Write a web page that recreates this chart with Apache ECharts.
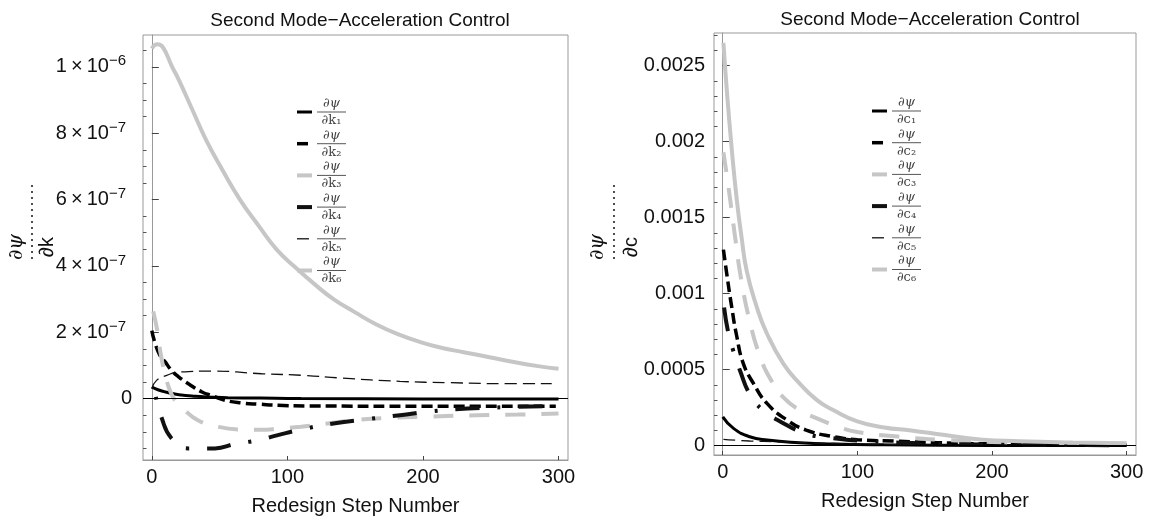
<!DOCTYPE html>
<html>
<head>
<meta charset="utf-8">
<script src="https://cdn.jsdelivr.net/npm/echarts@6/dist/echarts.min.js"></script>
<style>
  html, body { margin: 0; padding: 0; background: #fff; }
  #chart { width: 1151px; height: 521px; }
</style>
</head>
<body>
<div id="chart"></div>
<script>
// ---- data: step number vs sensitivity ----
// left panel, dpsi/dk
var stepK1 = [0, 5, 10, 20, 32, 45, 56, 80, 110, 200, 300];
var valK1  = [3.5e-8, 2.6e-8, 2.0e-8, 1.2e-8, 7e-9, 4.5e-9, 3e-9, 1.5e-9, 0, -1e-9, -1.5e-9];
var stepK2 = [0, 4.8, 10, 14.6, 20, 27, 37, 45, 54, 66, 80, 93, 115, 200, 298];
var valK2  = [2.05e-7, 1.4e-7, 1.1e-7, 8.5e-8, 6.5e-8, 4.5e-8, 2e-8, 8e-9, -5e-9, -1.3e-8, -1.7e-8, -2e-8, -2.2e-8, -2.3e-8, -2.3e-8];
var stepK3 = [0, 3.6, 7, 12, 17, 23, 34, 49, 64, 80, 95, 110, 130, 150, 175, 205, 240, 270, 300];
var valK3  = [2.8e-7, 2.15e-7, 1.25e-7, 4e-8, -5e-9, -3e-8, -6.5e-8, -8.5e-8, -9.3e-8, -9.4e-8, -9e-8, -8.5e-8, -7.5e-8, -6.5e-8, -5.8e-8, -5.4e-8, -5e-8, -4.8e-8, -4.5e-8];
var stepK4 = [3, 7, 14.6, 27, 46.6, 61, 78.5, 93, 108, 134, 159, 183, 207, 233, 260, 295];
var valK4  = [5e-9, -5.5e-8, -1.2e-7, -1.5e-7, -1.5e-7, -1.37e-7, -1.25e-7, -1.1e-7, -9.5e-8, -7.5e-8, -6.2e-8, -5e-8, -3.8e-8, -3e-8, -2.6e-8, -2.2e-8];
var stepK5 = [0, 3.5, 11, 20, 44, 81, 112, 140, 183, 220, 267, 295];
var valK5  = [3e-8, 5.5e-8, 7e-8, 8e-8, 8.3e-8, 7.5e-8, 7e-8, 6.2e-8, 5.2e-8, 4.8e-8, 4.5e-8, 4.5e-8];
var stepK6 = [0, 4, 8, 15, 20, 30, 40, 52, 65, 79, 92, 106, 120, 134, 150, 165, 181, 200, 215, 230, 250, 270, 285, 300];
var valK6  = [1.055e-6, 1.068e-6, 1.06e-6, 1.0e-6, 9.6e-7, 8.7e-7, 7.8e-7, 6.9e-7, 6.0e-7, 5.2e-7, 4.5e-7, 3.95e-7, 3.45e-7, 3.0e-7, 2.6e-7, 2.25e-7, 1.95e-7, 1.68e-7, 1.52e-7, 1.4e-7, 1.24e-7, 1.08e-7, 9.8e-8, 9e-8];

// right panel, dpsi/dc
var stepC1 = [0, 8, 20, 33, 57, 82, 120, 200, 300];
var valC1  = [0.00019, 0.000114, 5.9e-5, 3.7e-5, 2e-5, 1.1e-5, 6e-6, 2e-6, 1e-6];
var stepC2 = [0.5, 3, 6.7, 10.4, 15.3, 22.8, 32.7, 47.5, 62, 82, 100, 130, 160, 200, 300];
var valC2  = [0.00129, 0.00113, 0.00091, 0.00072, 0.00054, 0.00041, 0.00028, 0.00017, 0.000103, 6e-5, 4e-5, 3e-5, 2e-5, 1.2e-5, 5e-6];
var stepC3 = [0.5, 3, 5.5, 8, 10, 13, 20, 28, 36, 46, 58, 70, 87, 100, 130, 160, 200, 250, 300];
var valC3  = [0.00193, 0.00178, 0.00162, 0.00145, 0.00132, 0.00113, 0.00082, 0.00058, 0.00043, 0.00031, 0.00023, 0.00018, 0.00012, 9e-5, 6e-5, 4e-5, 2.5e-5, 1.5e-5, 1.2e-5];
var stepC4 = [1, 4.2, 8, 13, 20, 29, 42.6, 62, 82, 110, 150, 200, 300];
var valC4  = [0.00091, 0.00074, 0.00062, 0.00049, 0.00034, 0.00024, 0.00016, 8e-5, 5e-5, 3e-5, 1.5e-5, 8e-6, 3e-6];
var stepC5 = [0.5, 20, 40, 80, 150, 300];
var valC5  = [4.2e-5, 3.1e-5, 2.6e-5, 1.5e-5, 6e-6, 2e-6];
var stepC6 = [0.5, 3, 6.7, 10.4, 14, 17.8, 25, 32.7, 45, 57, 70, 82, 100, 120, 140, 165, 193, 220, 260, 300];
var valC6  = [0.00265, 0.00234, 0.00195, 0.00162, 0.00137, 0.00115, 0.00092, 0.00074, 0.00054, 0.00041, 0.0003, 0.000235, 0.00016, 0.00012, 0.0001, 7e-5, 4e-5, 3e-5, 2.2e-5, 1.7e-5];

// tick labels
var xTicks = [0, 100, 200, 300];
var kTicks = [0, 2e-7, 4e-7, 6e-7, 8e-7, 1e-6];
var cTicks = [0, 0.0005, 0.001, 0.0015, 0.002, 0.0025];
var kLabels = ['0', '2', '4', '6', '8', '1'];
var kExps = ['', '\u22127', '\u22127', '\u22127', '\u22127', '\u22126'];
var cLabels = ['0', '0.0005', '0.001', '0.0015', '0.002', '0.0025'];
var subs = ['\u2081', '\u2082', '\u2083', '\u2084', '\u2085', '\u2086'];

var title = 'Second Mode\u2212Acceleration Control';
var SANS = '"Liberation Sans", Arial, sans-serif';
var SERIF = '"DejaVu Serif", "Liberation Serif", serif';
var GRAY = '#c6c6c6';

function pairs(xs, ys) {
  var out = [];
  for (var i = 0; i < xs.length; i++) out.push([xs[i], ys[i]]);
  return out;
}

// minor tick positions (not data, just axis decoration)
function minors(from, to, step, majorEvery) {
  var out = [];
  for (var i = 0; from + i * step <= to + step * 1e-6; i++) {
    if (i % majorEvery !== 0) out.push(from + i * step);
  }
  return out;
}
var kMinor = minors(-2e-7, 1.1e-6, 5e-8, 4);
var cMinor = minors(0, 0.0027, 0.0001, 5);

var styles = [
  { color: '#000', width: 3, type: 'solid' },
  { color: '#000', width: 3.5, type: [11, 5] },
  { color: GRAY, width: 4, type: [20, 16], dashOffset: 30 },
  { color: '#111', width: 4, type: [24, 18, 3, 18], dashOffset: 42 },
  { color: '#111', width: 1.3, type: [12, 6] },
  { color: GRAY, width: 4, type: 'solid' }
];
// right panel dash-dot starts on the dash, not the dot
var stylesC = styles.slice();
stylesC[3] = { color: '#111', width: 4, type: [24, 18, 3, 18] };
stylesC[2] = { color: GRAY, width: 4, type: [20, 16] };

function line(name, xs, ys, idx, k) {
  var st = idx === 0 ? styles[k] : stylesC[k];
  var s = {
    name: name, type: 'line', xAxisIndex: idx, yAxisIndex: idx * 2,
    data: pairs(xs, ys), showSymbol: false, symbol: 'none',
    smooth: 0.5,
    lineStyle: st, itemStyle: { color: st.color },
    emphasis: { disabled: true }, animation: false
  };
  if (k === 0) {
    s.markLine = {
      silent: true, symbol: 'none', animation: false,
      label: { show: false },
      lineStyle: { color: '#000', width: 1, type: 'solid' },
      data: [{ yAxis: 0 }]
    };
  }
  return s;
}

function xAxis(gi) {
  return {
    type: 'value', gridIndex: gi, min: -6.5, max: 307,
    axisLine: { onZero: false, lineStyle: { color: '#999' } },
    axisTick: { inside: true, length: 4, customValues: xTicks, lineStyle: { color: '#444' } },
    axisLabel: { customValues: xTicks, fontSize: 20, color: '#111', fontFamily: SANS, margin: 7 },
    splitLine: { show: false },
    name: 'Redesign Step Number', nameLocation: 'middle', nameGap: 36,
    nameTextStyle: { fontSize: 20, color: '#111', fontFamily: SANS }
  };
}

function legend(names, letter, left, top) {
  return {
    orient: 'vertical', left: left, top: top, itemGap: 1.7,
    itemWidth: 15, itemHeight: 12, selectedMode: false,
    itemStyle: { opacity: 0, borderWidth: 0 },
    lineStyle: { width: 'inherit', type: 'inherit', dashOffset: 0 },
    data: names,
    formatter: function (n) {
      var i = names.indexOf(n);
      return '{n|\u2202\u03c8}\n{bar| }\n{d|\u2202' + letter + subs[i] + '}';
    },
    textStyle: {
      rich: {
        n: { fontFamily: SERIF, fontSize: 13, fontStyle: 'italic', color: '#444', width: 29, align: 'center', lineHeight: 14 },
        bar: { fontSize: 1, width: 29, height: 1, lineHeight: 3, backgroundColor: '#555' },
        d: { fontFamily: SERIF, fontSize: 13, color: '#444', width: 29, align: 'center', lineHeight: 14 }
      }
    }
  };
}

function yName(xNum, xBar, xDen, den) {
  return [
    { type: 'text', x: xNum, y: 247, rotation: Math.PI / 2, silent: true,
      style: { text: '\u2202\u03c8', font: 'italic 20px ' + SERIF, fill: '#111', align: 'center', verticalAlign: 'middle' } },
    { type: 'line', silent: true, shape: { x1: xBar, y1: 185, x2: xBar, y2: 262 },
      style: { stroke: '#222', lineWidth: 1.6, lineDash: [2, 4] } },
    { type: 'text', x: xDen, y: 247, rotation: Math.PI / 2, silent: true,
      style: { text: '\u2202' + den, font: '20px ' + SANS, fill: '#111', align: 'center', verticalAlign: 'middle' } }
  ];
}

var chart = echarts.init(document.getElementById('chart'), null, { renderer: 'canvas' });

var option = {
  backgroundColor: '#fff',
  animation: false,
  title: [
    { text: title, left: 355, top: 6, textAlign: 'center',
      textStyle: { fontSize: 19, fontWeight: 'normal', color: '#111', fontFamily: SANS } },
    { text: title, left: 925, top: 5, textAlign: 'center',
      textStyle: { fontSize: 19, fontWeight: 'normal', color: '#111', fontFamily: SANS } }
  ],
  grid: [
    { left: 143, top: 35, width: 425, height: 427, show: true, borderColor: '#999', borderWidth: 1 },
    { left: 714, top: 33, width: 422, height: 422, show: true, borderColor: '#999', borderWidth: 1 }
  ],
  xAxis: [xAxis(0), xAxis(1)],
  yAxis: [
    {
      type: 'value', gridIndex: 0, position: 'left', min: -1.85e-7, max: 1.096e-6,
      axisLine: { show: true, lineStyle: { color: '#999' } },
      axisTick: { inside: true, length: 7, customValues: kTicks, lineStyle: { color: '#444' } },
      axisLabel: {
        customValues: kTicks, margin: 11, color: '#111',
        formatter: function (v) {
          var i = kTicks.indexOf(v);
          if (i <= 0) return '{m|0}';
          return '{m|' + kLabels[i] + '\u2009\u00d7\u200910}{e|' + kExps[i] + '}';
        },
        rich: {
          m: { fontSize: 20, fontFamily: SANS, color: '#111', lineHeight: 26 },
          e: { fontSize: 15, fontFamily: SANS, color: '#111', verticalAlign: 'top', lineHeight: 15, padding: [0, 6, 0, 0] }
        }
      },
      splitLine: { show: false }
    },
    {
      type: 'value', gridIndex: 0, position: 'left', min: -1.85e-7, max: 1.096e-6,
      axisLine: { show: false }, axisLabel: { show: false }, splitLine: { show: false },
      axisTick: { inside: true, length: 3.5, customValues: kMinor, lineStyle: { color: '#555' } }
    },
    {
      type: 'value', gridIndex: 1, position: 'left', min: -6.1e-5, max: 0.002715,
      axisLine: { show: true, lineStyle: { color: '#999' } },
      axisTick: { inside: true, length: 7, customValues: cTicks, lineStyle: { color: '#444' } },
      axisLabel: {
        customValues: cTicks, margin: 9, fontSize: 20, color: '#111', fontFamily: SANS,
        formatter: function (v) {
          var i = cTicks.indexOf(v);
          return i < 0 ? '' : cLabels[i];
        }
      },
      splitLine: { show: false }
    },
    {
      type: 'value', gridIndex: 1, position: 'left', min: -6.1e-5, max: 0.002715,
      axisLine: { show: false }, axisLabel: { show: false }, splitLine: { show: false },
      axisTick: { inside: true, length: 3.5, customValues: cMinor, lineStyle: { color: '#555' } }
    }
  ],
  legend: [
    legend(['k1', 'k2', 'k3', 'k4', 'k5', 'k6'], 'k', 290, 92),
    legend(['c1', 'c2', 'c3', 'c4', 'c5', 'c6'], 'c', 865, 91)
  ],
  graphic: yName(17, 32, 47, 'k').concat(yName(598, 614, 631, 'c')),
  series: [
    line('k1', stepK1, valK1, 0, 0),
    line('k2', stepK2, valK2, 0, 1),
    line('k3', stepK3, valK3, 0, 2),
    line('k4', stepK4, valK4, 0, 3),
    line('k5', stepK5, valK5, 0, 4),
    line('k6', stepK6, valK6, 0, 5),
    line('c1', stepC1, valC1, 1, 0),
    line('c2', stepC2, valC2, 1, 1),
    line('c3', stepC3, valC3, 1, 2),
    line('c4', stepC4, valC4, 1, 3),
    line('c5', stepC5, valC5, 1, 4),
    line('c6', stepC6, valC6, 1, 5)
  ]
};

chart.setOption(option);
</script>
</body>
</html>
